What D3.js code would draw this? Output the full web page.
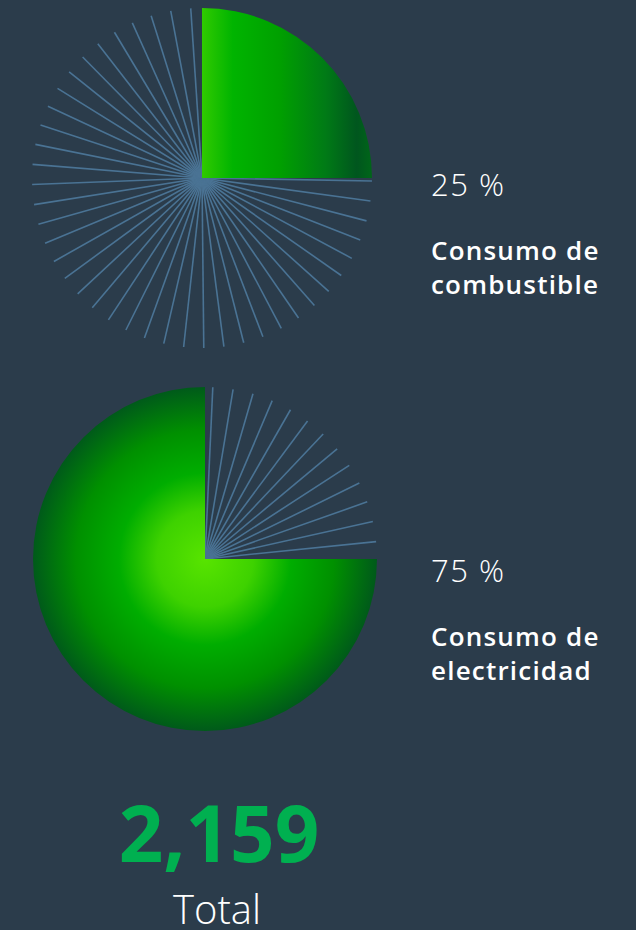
<!DOCTYPE html>
<html><head><meta charset="utf-8">
<script src="https://cdn.jsdelivr.net/npm/d3@7"></script>
<style>html,body{margin:0;padding:0;background:#2b3c4b;}svg{display:block;}</style>
</head><body>
<script>
const categories = ["Consumo de combustible", "Consumo de electricidad"];
const labelLines = [["Consumo de", "combustible"], ["Consumo de", "electricidad"]];
const percents = [25, 75];
const totalValue = 2159;
const totalLabel = "Total";

const W = 636, H = 930;
const svg = d3.select("body").append("svg").attr("width", W).attr("height", H);
svg.append("rect").attr("width", W).attr("height", H).attr("fill", "#2b3c4b");

const defs = svg.append("defs");
const lin = defs.append("linearGradient").attr("id", "gLin")
  .attr("gradientUnits", "userSpaceOnUse").attr("x1", 0).attr("y1", 0).attr("x2", 172).attr("y2", 0);
[[0, "#30ca00"], [0.18, "#00b400"], [0.45, "#00a000"], [0.72, "#007a16"], [0.9, "#00561e"], [1, "#006818"]]
  .forEach(([o, c]) => lin.append("stop").attr("offset", o).attr("stop-color", c));
const rad = defs.append("radialGradient").attr("id", "gRad")
  .attr("cx", "50%").attr("cy", "50%").attr("r", "50%");
[[0, "#58e400"], [0.28, "#3ed200"], [0.5, "#00ad00"], [0.75, "#009000"], [1, "#005a1a"]]
  .forEach(([o, c]) => rad.append("stop").attr("offset", o).attr("stop-color", c));

const charts = [
  {cx: 202, cy: 178, r: 170, fill: "url(#gLin)", order: "greenFirst", textY: 196},
  {cx: 205, cy: 559, r: 172, fill: "url(#gRad)", order: "greenLast", textY: 582}
];

const spokeStep = 6.8, spokeOffset = 2.6;
const spokeAngles = d3.range(0, 53).map(k => spokeOffset + k * spokeStep);
const deg = d3.scaleLinear().domain([0, 360]).range([0, 2 * Math.PI]);

charts.forEach((c, i) => {
  const v = percents[i];
  const data = c.order === "greenFirst"
    ? [{v: v, green: true}, {v: 100 - v, green: false}]
    : [{v: 100 - v, green: false}, {v: v, green: true}];
  const arcs = d3.pie().sort(null).value(d => d.v)(data);
  const arc = d3.arc().innerRadius(0).outerRadius(c.r);
  const g = svg.append("g").attr("transform", `translate(${c.cx},${c.cy})`);
  const rest = arcs.find(a => !a.data.green);
  spokeAngles.map(deg).filter(a => a >= rest.startAngle && a <= rest.endAngle).forEach(a => {
    g.append("line").attr("x1", 0).attr("y1", 0)
      .attr("x2", Math.sin(a) * c.r).attr("y2", -Math.cos(a) * c.r)
      .attr("stroke", "#4a7394").attr("stroke-width", 1.6);
  });
  const green = arcs.find(a => a.data.green);
  g.append("path").attr("d", arc(green)).attr("fill", c.fill);

  svg.append("text").attr("x", 431).attr("y", c.textY)
    .attr("fill", "#ffffff").attr("font-family", "'Open Sans', sans-serif")
    .attr("font-weight", 300).attr("font-size", 31).attr("letter-spacing", 1.5).text(v + " %");
  labelLines[i].forEach((t, j) => {
    svg.append("text").attr("x", 431).attr("y", c.textY + 64 + j * 34)
      .attr("fill", "#ffffff").attr("font-family", "'Open Sans', sans-serif")
      .attr("font-weight", 600).attr("font-size", 26).attr("letter-spacing", 1.2).text(t);
  });
});

svg.append("text").attr("x", 219).attr("y", 862).attr("text-anchor", "middle")
  .attr("fill", "#00b050").attr("font-family", "'Open Sans', sans-serif")
  .attr("font-weight", 700).attr("font-size", 78).text(d3.format(",")(totalValue));
svg.append("text").attr("x", 217).attr("y", 924).attr("text-anchor", "middle")
  .attr("fill", "#ffffff").attr("font-family", "'Open Sans', sans-serif")
  .attr("font-weight", 300).attr("font-size", 40).text(totalLabel);
</script>
</body></html>
